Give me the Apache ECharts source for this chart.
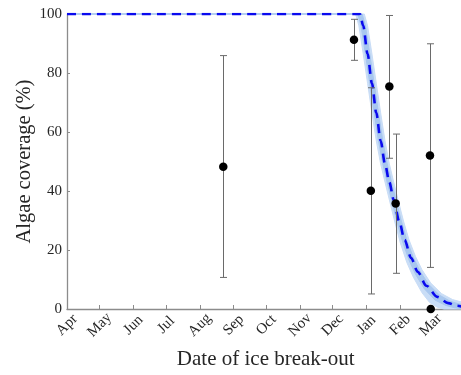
<!DOCTYPE html>
<html>
<head>
<meta charset="utf-8">
<script src="https://cdn.jsdelivr.net/npm/echarts@6/dist/echarts.min.js"></script>
<style>
  html, body { margin: 0; padding: 0; background: #fff; }
  #chart { width: 461px; height: 375px; }
</style>
</head>
<body>
<div id="chart"></div>
<script>
// Days are counted from 1 April (day 0) through the following March.
const monthNames = ['Apr', 'May', 'Jun', 'Jul', 'Aug', 'Sep', 'Oct', 'Nov', 'Dec', 'Jan', 'Feb', 'Mar'];
const monthStarts = [0, 30, 61, 91, 122, 153, 183, 214, 244, 275, 306, 334];

// Observed break-out dates, mean algae coverage and its error range
const breakoutDay = [143.5, 263.5, 279, 296, 301.8, 333.3, 334];
const coverage    = [48.2, 91.3, 40.1, 75.4, 35.8, 52.0, 0];
const coverageLo  = [10.7, 84.3, 5.1, 51.1, 12.1, 14.1, 0];
const coverageHi  = [85.9, 98.2, 75.0, 99.5, 59.3, 89.9, 0];

// Fitted coverage curve [day, %]
const fitCurve = [[0, 100], [269, 100], [272, 96], [276, 86.5], [280, 76.5], [284, 66.5], [288, 57],
  [292, 49.2], [296, 43], [300, 37], [305, 29.8], [310, 23.4], [316, 17.3], [322, 12.6],
  [330, 7.9], [340, 4.1], [350, 2.0], [358, 1.1], [365, 0.6]];

// Outer and inner confidence envelopes around the fit [day, %]
const outerUpper = [[0, 100], [273, 100], [276, 96], [280, 86.5], [284, 76.5], [288, 66.5], [292, 57],
  [296, 49.2], [300, 43], [304, 37], [309, 29.8], [314, 23.5], [320, 17.8], [326, 13.3], [334, 8.8],
  [344, 5.2], [354, 3.2], [362, 2.4], [365, 2.2]];
const outerLower = [[0, 100], [265, 100], [268, 96], [272, 86.5], [276, 76.5], [280, 66.5], [284, 57],
  [288, 49.2], [292, 43], [296, 37], [301, 29.5], [306, 22.5], [312, 15.8], [318, 10.8], [326, 5.5],
  [333, 2.2], [340, 0.6], [346, 0], [365, 0]];
const innerUpper = [[0, 100], [271, 100], [274, 96], [278, 86.5], [282, 76.5], [286, 66.5], [290, 57],
  [294, 49.2], [298, 43], [302, 37], [307, 29.8], [312, 23.4], [318, 17.5], [324, 12.9], [332, 8.4],
  [342, 4.7], [352, 2.6], [360, 1.7], [365, 1.4]];
const innerLower = [[0, 100], [267, 100], [270, 96], [274, 86.5], [278, 76.5], [282, 66.5], [286, 57],
  [290, 49.2], [294, 43], [298, 37], [303, 29.6], [308, 23], [314, 16.6], [320, 11.8], [328, 6.9],
  [338, 3.0], [348, 1.2], [356, 0.4], [365, 0]];

const textColor = '#262626';
const axisColor = '#8c8c8c';
const serif = '"Liberation Serif", "DejaVu Serif", serif';

function bandSeries(upper, lower, color) {
  return {
    type: 'custom',
    coordinateSystem: 'cartesian2d',
    silent: true,
    z: 1,
    data: [[0, 0]],
    renderItem: function (params, api) {
      const pts = upper.map(p => api.coord(p))
        .concat(lower.slice().reverse().map(p => api.coord(p)));
      return {
        type: 'polygon',
        shape: { points: pts },
        style: { fill: color, stroke: color, lineWidth: 1 }
      };
    }
  };
}

const errorData = breakoutDay.map((d, i) => [d, coverageLo[i], coverageHi[i]]);
const pointData = breakoutDay.map((d, i) => [d, coverage[i]]);

const chart = echarts.init(document.getElementById('chart'), null, { renderer: 'canvas' });
chart.setOption({
  animation: false,
  backgroundColor: '#fff',
  grid: { left: 67, top: 14, width: 397.5, bottom: 66, containLabel: false, outerBoundsMode: 'none' },
  xAxis: {
    type: 'value',
    min: 0,
    max: 365,
    name: 'Date of ice break-out',
    nameLocation: 'middle',
    nameGap: 40,
    nameTextStyle: { fontFamily: serif, fontSize: 21, color: textColor },
    axisLine: { show: true, lineStyle: { color: axisColor, width: 1.3 } },
    axisTick: { show: true, inside: true, length: 4, customValues: monthStarts,
      lineStyle: { color: axisColor, width: 1 } },
    axisLabel: {
      customValues: monthStarts,
      rotate: 45,
      align: 'center',
      verticalAlign: 'middle',
      margin: 16,
      fontFamily: serif,
      fontSize: 15,
      color: textColor,
      formatter: function (v) { return monthNames[monthStarts.indexOf(v)]; }
    },
    splitLine: { show: false }
  },
  yAxis: {
    type: 'value',
    min: 0,
    max: 100,
    interval: 20,
    name: 'Algae coverage (%)',
    nameLocation: 'middle',
    nameGap: 32,
    nameMoveOverlap: false,
    nameTextStyle: { fontFamily: serif, fontSize: 20.5, color: textColor },
    axisLine: { show: true, lineStyle: { color: axisColor, width: 1.3 } },
    axisTick: { show: true, inside: true, length: 3, lineStyle: { color: axisColor, width: 1 } },
    axisLabel: { fontFamily: serif, fontSize: 15, color: textColor, margin: 5 },
    splitLine: { show: false }
  },
  series: [
    bandSeries(outerUpper, outerLower, '#c9ddf6'),
    bandSeries(innerUpper, innerLower, '#a8c7ef'),
    {
      type: 'line',
      data: fitCurve,
      smooth: 0.3,
      smoothMonotone: 'x',
      showSymbol: false,
      silent: true,
      z: 3,
      lineStyle: { color: '#0a0aee', width: 2.6, type: [9, 6] }
    },
    {
      type: 'custom',
      coordinateSystem: 'cartesian2d',
      silent: true,
      z: 4,
      data: errorData,
      renderItem: function (params, api) {
        const lo = api.value(1), hi = api.value(2);
        if (hi - lo <= 0) return null;
        const top = api.coord([api.value(0), hi]);
        const bot = api.coord([api.value(0), lo]);
        const x = Math.round(top[0]) + 0.5;
        const cap = 3.5;
        const st = { stroke: '#6a6a6a', lineWidth: 1 };
        return {
          type: 'group',
          children: [
            { type: 'line', shape: { x1: x, y1: top[1], x2: x, y2: bot[1] }, style: st },
            { type: 'line', shape: { x1: x - cap, y1: top[1], x2: x + cap, y2: top[1] }, style: st },
            { type: 'line', shape: { x1: x - cap, y1: bot[1], x2: x + cap, y2: bot[1] }, style: st }
          ]
        };
      }
    },
    {
      type: 'scatter',
      data: pointData,
      symbol: 'circle',
      symbolSize: 8.5,
      silent: true,
      z: 5,
      itemStyle: { color: '#000', opacity: 1 }
    }
  ]
});
</script>
</body>
</html>
